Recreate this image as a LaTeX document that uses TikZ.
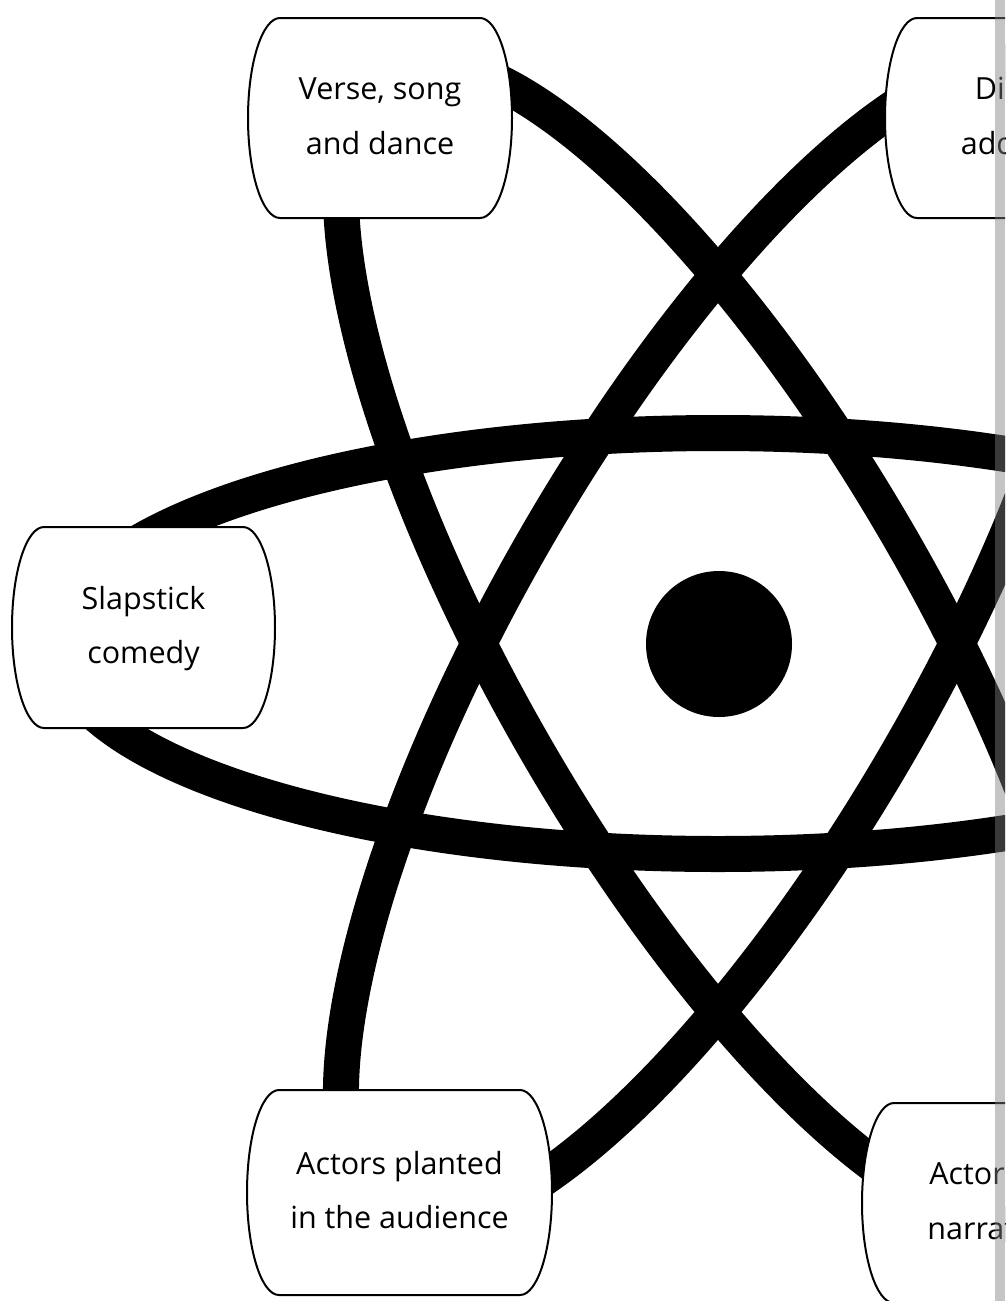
\documentclass[tikz,border=0pt]{standalone}
\usepackage{fontspec}
\setmainfont{Open Sans}
\newcommand\tst{\rule[-8pt]{0pt}{32pt}}
\tikzset{
  band/.style={draw=black, line width=36pt},
  boxline/.style={draw=black, fill=white, line width=2pt},
  boxtext/.style={align=center, inner sep=0pt, text=black, font=\fontsize{30.5}{54.5}\selectfont},
}
\newcommand\ebox[6]{%
  \pgfmathsetmacro\ea{#2+32}%
  \pgfmathsetmacro\eb{#4-32}%
  \pgfmathsetmacro\ery{(#5-#3)/2}%
  \pgfmathsetmacro\ecx{(#2+#4)/2}%
  \pgfmathsetmacro\ecy{-(#3+#5)/2-1}%
  \draw[boxline] (\ea,-#3) -- (\eb,-#3) arc[start angle=90,end angle=-90,x radius=32,y radius=\ery] -- (\ea,-#5) arc[start angle=270,end angle=90,x radius=32,y radius=\ery] -- cycle;
  \node[boxtext] (#1) at (\ecx,\ecy) {#6};
}
\begin{document}
\begin{tikzpicture}[x=1pt,y=1pt]
\useasboundingbox (0,0) rectangle (1005,-1301);
\clip (0,0) rectangle (1005,-1301);
\fill[white] (0,0) rectangle (1005,-1301);
\coordinate (c) at (718,-643.5);
% orbits
\draw[band] (c) ellipse[x radius=660, y radius=210.5];
\draw[band] (c) ellipse[x radius=660, y radius=210.5, rotate=60];
\draw[band] (c) ellipse[x radius=660, y radius=210.5, rotate=120];
% nucleus
\node[circle, fill=black, draw=none, minimum size=146pt, inner sep=0pt] (nucleus) at (719,-644) {};
% boxes
\ebox{verse}{248}{18}{512}{218}{\tst Verse, song\\\tst and dance}
\ebox{direct}{885}{18}{1149}{218}{\tst Direct\\\tst address}
\ebox{slap}{12}{527}{275}{728}{\tst Slapstick\\\tst comedy}
\ebox{planted}{247}{1090}{552}{1295}{\tst Actors planted\\\tst in the audience}
\ebox{narr}{862}{1103}{1126}{1303}{\tst Actors as\\\tst narrators}
% cropped edge stripe
\fill[gray, opacity=0.45] (995,0) rectangle (1005,-1301);
\end{tikzpicture}
\end{document}
